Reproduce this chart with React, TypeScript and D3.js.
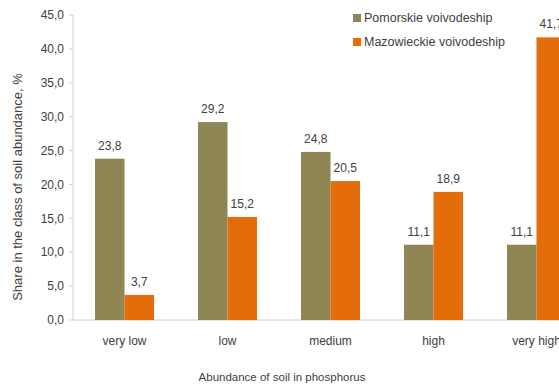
import React from "react";
import { scaleBand, scaleLinear } from "d3";

const categories = ["very low", "low", "medium", "high", "very high"];
const pomorskie = [23.8, 29.2, 24.8, 11.1, 11.1];
const mazowieckie = [3.7, 15.2, 20.5, 18.9, 41.7];
const seriesNames = ["Pomorskie voivodeship", "Mazowieckie voivodeship"];
const yTicks = [0, 5, 10, 15, 20, 25, 30, 35, 40, 45];

const colors = ["#8e8654", "#e46c0a"];
const fmt = (v: number) => v.toFixed(1).replace(".", ",");

const W = 559;
const H = 387;
const margin = { top: 15, left: 73, bottom: 67 };
const font = "'Liberation Sans', Arial, sans-serif";

export default function App() {
	const plotH = H - margin.top - margin.bottom;
	const bandW = 103;

	const x = scaleBand<string>()
		.domain(categories)
		.range([margin.left, margin.left + bandW * categories.length])
		.paddingInner(0)
		.paddingOuter(0);

	const y = scaleLinear().domain([0, 45]).range([margin.top + plotH, margin.top]);

	const barW = 29.5;
	const series = [pomorskie, mazowieckie];

	return (
		<svg
			width={W}
			height={H}
			style={{ position: "absolute", left: 0, top: 0, background: "#fff" }}
			fontFamily={font}>
			{/* y axis */}
			<line
				x1={margin.left}
				x2={margin.left}
				y1={y(0)}
				y2={y(45)}
				stroke="#d0d0d0"
			/>
			<line x1={margin.left} x2={W} y1={y(0)} y2={y(0)} stroke="#d0d0d0" />
			{yTicks.map((t) => (
				<g key={t} transform={`translate(0, ${y(t)})`}>
					<line x1={margin.left - 4} x2={margin.left} stroke="#d0d0d0" />
					<text
						x={margin.left - 9}
						dy="0.35em"
						textAnchor="end"
						fontSize={12}
						fill="#404040">
						{fmt(t)}
					</text>
				</g>
			))}

			{/* bars */}
			{categories.map((c, i) => {
				const cx = (x(c) || 0) + x.bandwidth() / 2;
				return (
					<g key={c}>
						{series.map((s, j) => {
							const bx = cx - barW + j * barW;
							return (
								<g key={j}>
									<rect
										x={bx}
										y={y(s[i])}
										width={barW}
										height={y(0) - y(s[i])}
										fill={colors[j]}
									/>
									<text
										x={bx + barW / 2}
										y={y(s[i]) - 9}
										textAnchor="middle"
										fontSize={12}
										fill="#404040">
										{fmt(s[i])}
									</text>
								</g>
							);
						})}
						<text
							x={cx}
							y={y(0) + 25}
							textAnchor="middle"
							fontSize={12}
							fill="#404040">
							{c}
						</text>
					</g>
				);
			})}

			{/* axis titles */}
			<text
				transform={`translate(22, 187) rotate(-90)`}
				textAnchor="middle"
				fontSize={13}
				fill="#404040">
				Share in the class of soil abundance, %
			</text>
			<text
				x={282}
				y={381}
				textAnchor="middle"
				fontSize={11.5}
				fill="#404040">
				Abundance of soil in phosphorus
			</text>

			{/* legend */}
			{seriesNames.map((n, j) => (
				<g key={n} transform={`translate(353, ${14 + j * 24})`}>
					<rect width={8} height={8} fill={colors[j]} />
					<text x={11} y={4} dy="0.35em" fontSize={12.5} fill="#404040">
						{n}
					</text>
				</g>
			))}
		</svg>
	);
}
